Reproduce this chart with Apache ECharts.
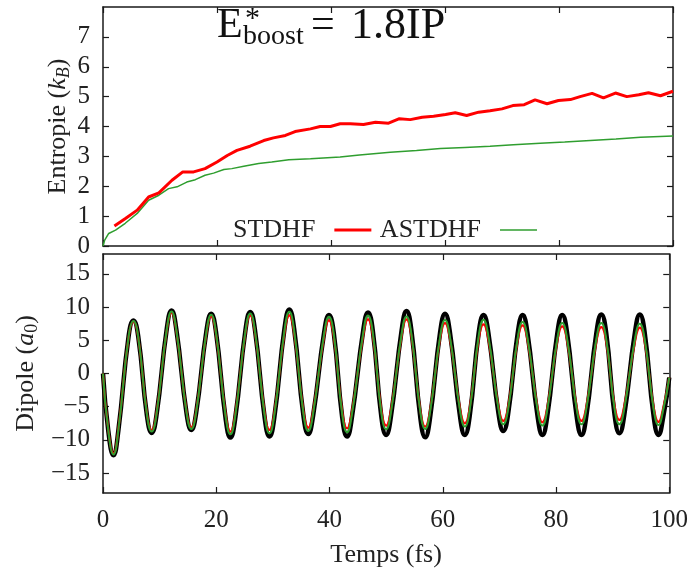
<!DOCTYPE html>
<html><head><meta charset="utf-8">
<script src="https://cdn.jsdelivr.net/npm/echarts@6/dist/echarts.min.js"></script>
<style>html,body{margin:0;padding:0;background:#fff}#c{width:691px;height:576px}</style>
</head><body><div id="c"></div>
<script>
// ---- Entropy (top panel) ----
const stdhfEntT = [2.0, 4.0, 6.0, 8.0, 9.8, 12.1, 14.0, 15.9, 17.9, 20.0, 21.8, 23.5, 25.8, 28.2, 29.9, 32.0, 33.7, 36.4, 38.1, 39.9, 41.6, 43.4, 45.7, 47.8, 50.1, 52.0, 53.9, 56.0, 58.0, 60.1, 61.8, 63.8, 65.9, 67.9, 70.0, 71.9, 73.9, 75.8, 77.9, 79.9, 82.0, 83.7, 85.8, 87.8, 89.9, 91.9, 94.0, 95.7, 97.8, 100];
const stdhfEntS = [0.67, 0.93, 1.2, 1.64, 1.78, 2.2, 2.48, 2.48, 2.59, 2.81, 3.03, 3.2, 3.34, 3.53, 3.62, 3.7, 3.83, 3.92, 4.0, 4.0, 4.09, 4.09, 4.07, 4.14, 4.11, 4.26, 4.23, 4.31, 4.34, 4.4, 4.46, 4.37, 4.48, 4.53, 4.59, 4.7, 4.73, 4.89, 4.76, 4.87, 4.9, 5.0, 5.11, 4.96, 5.12, 5.0, 5.06, 5.13, 5.03, 5.18];
const astdhfEntT = [0, 0.3, 1.0, 2.2, 3.9, 6.0, 8.0, 9.8, 11.5, 13.0, 14.7, 16.2, 17.9, 19.4, 21.2, 22.6, 24.7, 27.3, 29.6, 32.6, 36.4, 41.6, 45, 50.4, 55, 59.2, 63.5, 67.9, 72, 76.7, 81, 85.5, 90, 94.3, 100];
const astdhfEntS = [0, 0.2, 0.42, 0.53, 0.76, 1.09, 1.53, 1.7, 1.92, 1.98, 2.14, 2.22, 2.37, 2.44, 2.56, 2.59, 2.67, 2.76, 2.81, 2.89, 2.92, 2.98, 3.05, 3.14, 3.2, 3.26, 3.3, 3.34, 3.39, 3.44, 3.48, 3.53, 3.58, 3.64, 3.68];

// ---- Dipole (bottom panel): values read around each extremum ----
const dipoleT = [0, 0.93, 1.86, 2.71,
  4.52, 5.37, 6.22,   7.75, 8.6, 9.45,   11.25, 12.1, 12.95,  14.75, 15.6, 16.45,
  18.25, 19.1, 19.95, 21.65, 22.5, 23.35, 25.15, 26.0, 26.85,  28.55, 29.4, 30.25,
  32.05, 32.9, 33.75, 35.4, 36.25, 37.1,  39.05, 39.9, 40.75,  42.25, 43.1, 43.95,
  45.95, 46.8, 47.65, 49.15, 50.0, 50.85, 52.75, 53.6, 54.45,  56.05, 56.9, 57.75,
  59.55, 60.4, 61.25, 63.05, 63.9, 64.75, 66.35, 67.2, 68.05,  69.85, 70.7, 71.55,
  73.25, 74.1, 74.95, 76.75, 77.6, 78.45, 80.25, 81.1, 81.95,  83.65, 84.5, 85.35,
  87.15, 88.0, 88.85, 90.35, 91.2, 92.05, 93.95, 94.8, 95.65,  97.25, 98.1, 98.95,
  100];
const dipoleTDHF = [0, -8.6, -12.3, -8.6,
  5.6, 8.0, 5.6,      -6.27, -8.95, -6.27,  6.65, 9.5, 6.65,   -5.95, -8.5, -5.95,
  6.3, 9.0, 6.3,      -6.76, -9.65, -6.76,  6.48, 9.25, 6.48,  -6.65, -9.5, -6.65,
  6.76, 9.65, 6.76,   -6.37, -9.1, -6.37,   6.16, 8.8, 6.16,   -6.65, -9.5, -6.65,
  6.44, 9.2, 6.44,    -6.48, -9.25, -6.48,  6.58, 9.4, 6.58,   -6.72, -9.6, -6.72,
  6.3, 9.0, 6.3,      -6.48, -9.25, -6.48,  6.16, 8.8, 6.16,   -6.06, -8.65, -6.06,
  6.16, 8.8, 6.16,    -6.48, -9.25, -6.48,  6.16, 8.8, 6.16,   -6.48, -9.25, -6.48,
  6.23, 8.9, 6.23,    -6.3, -9.0, -6.3,     6.23, 8.9, 6.23,   -6.48, -9.25, -6.48,
  -0.6];
const dipoleASTDHF = [0, -8.54, -12.2, -8.54,
  5.53, 7.9, 5.53,    -6.13, -8.75, -6.13,  6.55, 9.35, 6.55,  -5.85, -8.35, -5.85,
  6.2, 8.85, 6.2,     -6.41, -9.15, -6.41,  6.34, 9.05, 6.34,  -6.3, -9.0, -6.3,
  6.51, 9.3, 6.51,    -6.06, -8.65, -6.06,  5.99, 8.55, 5.99,  -6.2, -8.85, -6.2,
  6.13, 8.75, 6.13,   -5.88, -8.4, -5.88,   6.02, 8.6, 6.02,   -5.85, -8.35, -5.85,
  5.64, 8.05, 5.64,   -5.6, -8.0, -5.6,     5.67, 8.1, 5.67,   -5.36, -7.65, -5.36,
  5.43, 7.75, 5.43,   -5.5, -7.85, -5.5,    5.32, 7.6, 5.32,   -5.36, -7.65, -5.36,
  5.32, 7.6, 5.32,    -5.36, -7.65, -5.36,  5.25, 7.5, 5.25,   -5.43, -7.75, -5.43,
  -0.6];
const dipoleSTDHF = [0, -8.4, -12.0, -8.4,
  5.46, 7.8, 5.46,    -5.95, -8.5, -5.95,   6.41, 9.15, 6.41,  -5.67, -8.1, -5.67,
  6.02, 8.6, 6.02,    -6.13, -8.75, -6.13,  6.13, 8.75, 6.13,  -5.95, -8.5, -5.95,
  6.13, 8.75, 6.13,   -5.71, -8.15, -5.71,  5.6, 8.0, 5.6,     -5.78, -8.25, -5.78,
  5.71, 8.15, 5.71,   -5.5, -7.85, -5.5,    5.71, 8.15, 5.71,  -5.6, -8.0, -5.6,
  5.32, 7.6, 5.32,    -5.25, -7.5, -5.25,   5.18, 7.4, 5.18,   -5.0, -7.15, -5.0,
  5.08, 7.25, 5.08,   -5.15, -7.35, -5.15,  4.97, 7.1, 4.97,   -5.0, -7.15, -5.0,
  4.9, 7.0, 4.9,      -4.9, -7.0, -4.9,     4.83, 6.9, 4.83,   -5.11, -7.3, -5.11,
  -0.6];

const xTicks = [0, 20, 40, 60, 80, 100];
const entTicks = [0, 1, 2, 3, 4, 5, 6, 7];
const dipTicks = [-15, -10, -5, 0, 5, 10, 15];

const pairs = (t, v) => t.map((x, i) => [x, v[i]]);
const FONT = '"Liberation Serif", "DejaVu Serif", serif';
const AX = '#1a1a1a';
const fmt = v => v < 0 ? '\u2212' + Math.abs(v) : String(v);

function xAx(grid, pos, labels) {
  return {
    type: 'value', gridIndex: grid, position: pos, min: 0, max: 100, interval: 20,
    axisLine: { show: true, onZero: false, lineStyle: { color: AX, width: 1.5 } },
    axisTick: { show: true, inside: true, length: 6, customValues: xTicks, lineStyle: { color: AX, width: 1.2 } },
    axisLabel: { show: labels, margin: 15, customValues: xTicks, fontFamily: FONT, fontSize: 25, color: '#222', formatter: fmt },
    splitLine: { show: false }
  };
}
function yAx(grid, pos, labels, min, max, ticks, extra) {
  return Object.assign({
    type: 'value', gridIndex: grid, position: pos, min: min, max: max,
    axisLine: { show: true, onZero: false, lineStyle: { color: AX, width: 1.5 } },
    axisTick: { show: true, inside: true, length: 6, customValues: ticks, lineStyle: { color: AX, width: 1.2 } },
    axisLabel: { show: labels, margin: 13, customValues: ticks, fontFamily: FONT, fontSize: 25, color: '#222', formatter: fmt },
    splitLine: { show: false }
  }, extra || {});
}
const richName = {
  n: { fontFamily: FONT, fontSize: 26, color: '#222', lineHeight: 30 },
  i: { fontFamily: FONT, fontSize: 26, fontStyle: 'italic', color: '#222', lineHeight: 30 },
  s: { fontFamily: FONT, fontSize: 18, fontStyle: 'italic', color: '#222', lineHeight: 18, verticalAlign: 'bottom' },
  s0: { fontFamily: FONT, fontSize: 18, color: '#222', lineHeight: 18, verticalAlign: 'bottom' }
};

const chart = echarts.init(document.getElementById('c'), null, { renderer: 'canvas' });
chart.setOption({
  animation: false,
  backgroundColor: '#fff',
  grid: [
    { left: 103, width: 570, top: 7, height: 239 },
    { left: 103, width: 570, top: 254, height: 239 }
  ],
  xAxis: [
    xAx(0, 'bottom', false),
    xAx(0, 'top', false),
    Object.assign(xAx(1, 'bottom', true), {
      name: 'Temps (fs)', nameLocation: 'middle', nameGap: 49, nameMoveOverlap: false,
      nameTextStyle: { fontFamily: FONT, fontSize: 26, color: '#222' }
    }),
    xAx(1, 'top', false)
  ],
  yAxis: [
    yAx(0, 'left', true, 0, 8, entTicks, {
      name: '{n|Entropie (}{i|k}{s|B}{n|)}', nameLocation: 'middle', nameGap: 30, nameRotate: 90,
      nameMoveOverlap: false, nameTextStyle: { rich: richName }
    }),
    yAx(0, 'right', false, 0, 8, entTicks),
    yAx(1, 'left', true, -18, 18, dipTicks, {
      name: '{n|Dipole (}{i|a}{s0|0}{n|)}', nameLocation: 'middle', nameGap: 62, nameRotate: 90,
      nameMoveOverlap: false, nameTextStyle: { rich: richName }
    }),
    yAx(1, 'right', false, -18, 18, dipTicks)
  ],
  legend: {
    data: [
      { name: 'STDHF', lineStyle: { width: 3 } },
      { name: 'ASTDHF', lineStyle: { width: 1.5 } }
    ],
    left: 228, top: 212, align: 'right', itemWidth: 37, itemHeight: 14, itemGap: 7,
    itemStyle: { opacity: 0 },
    textStyle: { fontFamily: FONT, fontSize: 26, color: '#222', padding: [0, 14, 0, 0] }
  },
  graphic: [
    { type: 'text', x: 217, y: 5, style: { text: 'E', font: '42px ' + FONT, fill: '#111', align: 'left', verticalAlign: 'top' } },
    { type: 'text', x: 245, y: 4, style: { text: '*', font: '30px ' + FONT, fill: '#111', align: 'left', verticalAlign: 'top' } },
    { type: 'text', x: 243, y: 23, style: { text: 'boost', font: '28px ' + FONT, fill: '#111', align: 'left', verticalAlign: 'top' } },
    { type: 'text', x: 311, y: 5, style: { text: '=', font: '42px ' + FONT, fill: '#111', align: 'left', verticalAlign: 'top' } },
    { type: 'text', x: 351, y: 4, style: { text: '1.8IP', font: '44px ' + FONT, fill: '#111', align: 'left', verticalAlign: 'top' } }
  ],
  series: [
    { name: 'STDHF', type: 'line', xAxisIndex: 0, yAxisIndex: 0, data: pairs(stdhfEntT, stdhfEntS),
      symbol: 'none', lineStyle: { color: '#ff0000', width: 3 }, itemStyle: { color: '#ff0000' }, z: 3 },
    { name: 'ASTDHF', type: 'line', xAxisIndex: 0, yAxisIndex: 0, data: pairs(astdhfEntT, astdhfEntS),
      symbol: 'none', lineStyle: { color: '#2f9e2f', width: 1.5 }, itemStyle: { color: '#2f9e2f' }, z: 2 },
    { name: 'TDHF', type: 'line', xAxisIndex: 2, yAxisIndex: 2, data: pairs(dipoleT, dipoleTDHF),
      symbol: 'none', smooth: 0.5, lineStyle: { color: '#000', width: 4.5 }, z: 2 },
    { name: 'STDHF', type: 'line', xAxisIndex: 2, yAxisIndex: 2, data: pairs(dipoleT, dipoleSTDHF),
      symbol: 'none', smooth: 0.5, lineStyle: { color: '#ff0000', width: 2.2 }, itemStyle: { color: '#ff0000' }, z: 3 },
    { name: 'ASTDHF', type: 'line', xAxisIndex: 2, yAxisIndex: 2, data: pairs(dipoleT, dipoleASTDHF),
      symbol: 'none', smooth: 0.5, lineStyle: { color: '#2f9e2f', width: 2 }, itemStyle: { color: '#2f9e2f' }, z: 4 }
  ]
});
</script></body></html>
